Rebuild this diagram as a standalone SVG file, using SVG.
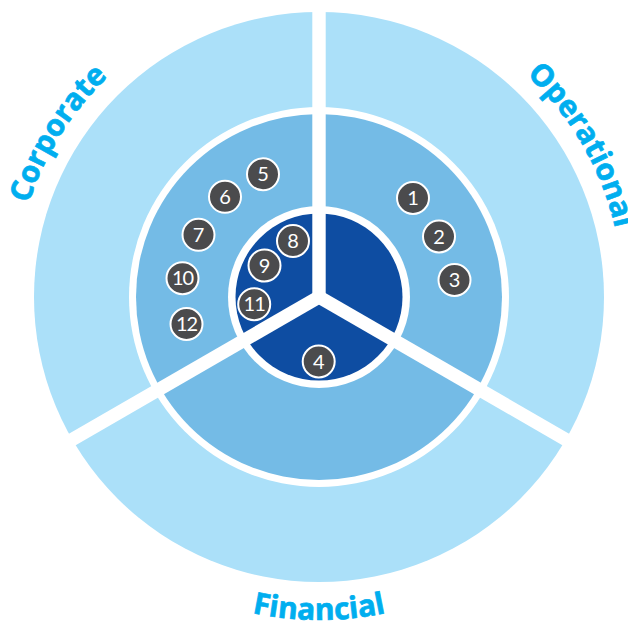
<svg xmlns="http://www.w3.org/2000/svg" width="628" height="621" viewBox="0 0 628 621">
  <style>
    .outer { fill: #ABE0F9; }
    .mid { fill: #74BBE6; }
    .inner { fill: #0E4DA2; }
    .gap { fill: #FFFFFF; }
    .band { stroke: #FFFFFF; stroke-width: 13.4; stroke-linecap: butt; fill: none; }
    .badge circle { fill: #4B4B4D; stroke: #FFFFFF; stroke-width: 2; }
    .badge text { fill: #FFFFFF; font-family: Lato, "Open Sans", sans-serif; font-size: 20px; font-weight: 400; text-anchor: middle; }
    .label { fill: #00AEEF; stroke: #00AEEF; stroke-width: 0.7; font-family: "Open Sans", Lato, sans-serif; font-size: 30px; font-weight: 700; }
  </style>
  <defs>
    <path id="arcCorporate" d="M 17.0 339.4 A 305 305 0 0 1 224.8 6.9"/>
    <path id="arcOperational" d="M 423.0 11.3 A 304 304 0 0 1 618.4 349.8"/>
    <path id="arcFinancial" d="M 111.4 544.4 A 323 323 0 0 0 526.6 544.4"/>
  </defs>

  <g id="rings">
    <circle class="outer" cx="319" cy="297" r="285"/>
    <circle class="gap" cx="319" cy="297" r="190"/>
    <circle class="mid" cx="319" cy="297" r="183"/>
    <circle class="gap" cx="319" cy="297" r="91"/>
    <circle class="inner" cx="319" cy="297" r="83.5"/>
  </g>

  <g id="dividers">
    <line class="band" x1="319" y1="297" x2="319" y2="-20"/>
    <line class="band" x1="319" y1="297" x2="-27.4" y2="497"/>
    <line class="band" x1="319" y1="297" x2="665.4" y2="497"/>
    <circle cx="319" cy="297" r="6.7" fill="#FFFFFF"/>
  </g>

  <g id="labels">
    <text id="label-corporate" class="label"><textPath href="#arcCorporate" startOffset="50%" text-anchor="middle">Corporate</textPath></text>
    <text id="label-operational" class="label"><textPath href="#arcOperational" startOffset="50%" text-anchor="middle">Operational</textPath></text>
    <text id="label-financial" class="label"><textPath href="#arcFinancial" startOffset="50%" text-anchor="middle">Financial</textPath></text>
  </g>

  <g id="badges">
    <g id="badge-1" class="badge"><circle cx="413" cy="198" r="16"/><text x="413" y="205">1</text></g>
    <g id="badge-2" class="badge"><circle cx="439" cy="236.5" r="16"/><text x="439" y="243.5">2</text></g>
    <g id="badge-3" class="badge"><circle cx="454.5" cy="280" r="16"/><text x="454.5" y="287">3</text></g>
    <g id="badge-4" class="badge"><circle cx="318.7" cy="361.5" r="16"/><text x="318.7" y="368.5">4</text></g>
    <g id="badge-5" class="badge"><circle cx="263" cy="174.3" r="16"/><text x="263" y="181.3">5</text></g>
    <g id="badge-6" class="badge"><circle cx="225" cy="196.8" r="16"/><text x="225" y="203.8">6</text></g>
    <g id="badge-7" class="badge"><circle cx="198.5" cy="234.8" r="16"/><text x="198.5" y="241.8">7</text></g>
    <g id="badge-8" class="badge"><circle cx="293" cy="241" r="16"/><text x="293" y="248">8</text></g>
    <g id="badge-9" class="badge"><circle cx="264.5" cy="265.5" r="16"/><text x="264.5" y="272.5">9</text></g>
    <g id="badge-10" class="badge"><circle cx="182.5" cy="278.2" r="16"/><text x="182.5" y="285.2" letter-spacing="-1">10</text></g>
    <g id="badge-11" class="badge"><circle cx="254.2" cy="304.2" r="16"/><text x="254.2" y="311.2" letter-spacing="-1">11</text></g>
    <g id="badge-12" class="badge"><circle cx="186.5" cy="324" r="16"/><text x="186.5" y="331" letter-spacing="-1">12</text></g>
  </g>
</svg>
